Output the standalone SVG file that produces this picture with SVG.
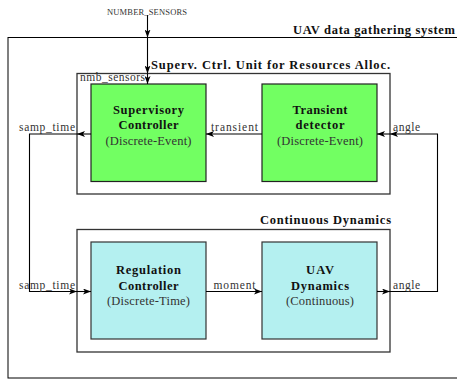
<svg xmlns="http://www.w3.org/2000/svg" width="457" height="379" viewBox="0 0 457 379" font-family="'Liberation Serif', 'DejaVu Serif', serif">
  <defs>
    <marker id="arr" viewBox="0 0 8 6" markerWidth="8" markerHeight="6" refX="8" refY="3" orient="auto" markerUnits="userSpaceOnUse">
      <path d="M0,0 L8,3 L0,6 L2,3 z" fill="#000"/>
    </marker>
  </defs>
  <style>
    text { font-family: 'Liberation Serif', 'DejaVu Serif', serif; fill: #111; }
    .title { font-size: 12.5px; font-weight: bold; }
    .bold { font-size: 12.5px; font-weight: bold; text-anchor: middle; }
    .sub { font-size: 12.5px; text-anchor: middle; fill: #333; }
    .lbl { font-size: 11.5px; fill: #333; }
    .frame { fill: none; stroke: #000; stroke-width: 1; }
    .group { fill: none; stroke: #333; stroke-width: 1.3; }
    .de { fill: #72ff62; stroke: #222; stroke-width: 1.2; }
    .ct { fill: #b4f0f0; stroke: #333; stroke-width: 1.2; }
    .wire { fill: none; stroke: #000; stroke-width: 1.1; marker-end: url(#arr); }
  </style>

  <!-- outer system frame (runs past the right edge) -->
  <g id="system">
    <rect class="frame" x="8" y="37.5" width="470" height="340.5"/>
    <text class="title" x="293" y="33.5" textLength="162">UAV data gathering system</text>
  </g>

  <!-- supervisory unit container -->
  <g id="supervisory-unit">
    <rect class="group" x="77" y="73.5" width="313" height="120.5"/>
    <text class="title" x="151" y="68.5" textLength="239">Superv. Ctrl. Unit for Resources Alloc.</text>
  </g>

  <!-- continuous dynamics container -->
  <g id="continuous-dynamics">
    <rect class="group" x="77" y="229.5" width="313" height="122.5"/>
    <text class="title" x="260" y="224" textLength="131">Continuous Dynamics</text>
  </g>

  <g id="supervisory-controller">
    <rect class="de" x="91" y="84" width="115" height="97.5"/>
    <text class="bold" x="148.5" y="113.5" textLength="71">Supervisory</text>
    <text class="bold" x="148.5" y="128.5" textLength="60">Controller</text>
    <text class="sub" x="148.5" y="144.5" textLength="86">(Discrete-Event)</text>
  </g>

  <g id="transient-detector">
    <rect class="de" x="262" y="84" width="115" height="97.5"/>
    <text class="bold" x="320" y="113.5" textLength="55">Transient</text>
    <text class="bold" x="320" y="128.5" textLength="49">detector</text>
    <text class="sub" x="320" y="144.5" textLength="86">(Discrete-Event)</text>
  </g>

  <g id="regulation-controller">
    <rect class="ct" x="91" y="242" width="115" height="97"/>
    <text class="bold" x="148.5" y="274" textLength="65">Regulation</text>
    <text class="bold" x="148.5" y="289.5" textLength="60">Controller</text>
    <text class="sub" x="148.5" y="305" textLength="83">(Discrete-Time)</text>
  </g>

  <g id="uav-dynamics">
    <rect class="ct" x="262" y="242" width="115" height="97"/>
    <text class="bold" x="320" y="274" textLength="28">UAV</text>
    <text class="bold" x="320" y="289.5" textLength="58">Dynamics</text>
    <text class="sub" x="320" y="305" textLength="68">(Continuous)</text>
  </g>

  <g id="connectors">
    <!-- NUMBER_SENSORS input -->
    <path class="wire" d="M147.5,15 L147.5,37.5"/>
    <path class="wire" d="M147.5,37.5 L147.5,73.5"/>
    <path class="wire" d="M147.5,73.5 L147.5,84"/>
    <!-- transient -->
    <path class="wire" d="M262,134 L206,134"/>
    <!-- samp_time feedback -->
    <path class="wire" d="M91,134 L77,134"/>
    <path class="wire" d="M77,134 L29.5,134 L29.5,291.5 L77,291.5"/>
    <path class="wire" d="M77,291.5 L91,291.5"/>
    <!-- moment -->
    <path class="wire" d="M206,291.5 L262,291.5"/>
    <!-- angle feedback -->
    <path class="wire" d="M377,291.5 L390,291.5"/>
    <path class="wire" d="M390,291.5 L437.5,291.5 L437.5,134 L390,134"/>
    <path class="wire" d="M390,134 L377,134"/>
  </g>

  <g id="labels">
    <text class="lbl" x="107" y="14.5" style="font-size:8.5px" textLength="80">NUMBER_SENSORS</text>
    <text class="lbl" x="80" y="80.5" textLength="65">nmb_sensors</text>
    <text class="lbl" x="19" y="131" textLength="56">samp_time</text>
    <text class="lbl" x="211" y="131" textLength="47">transient</text>
    <text class="lbl" x="393" y="131" textLength="27">angle</text>
    <text class="lbl" x="19" y="288.5" textLength="56">samp_time</text>
    <text class="lbl" x="213.5" y="288.5" textLength="42">moment</text>
    <text class="lbl" x="393" y="288.5" textLength="27">angle</text>
  </g>
</svg>
